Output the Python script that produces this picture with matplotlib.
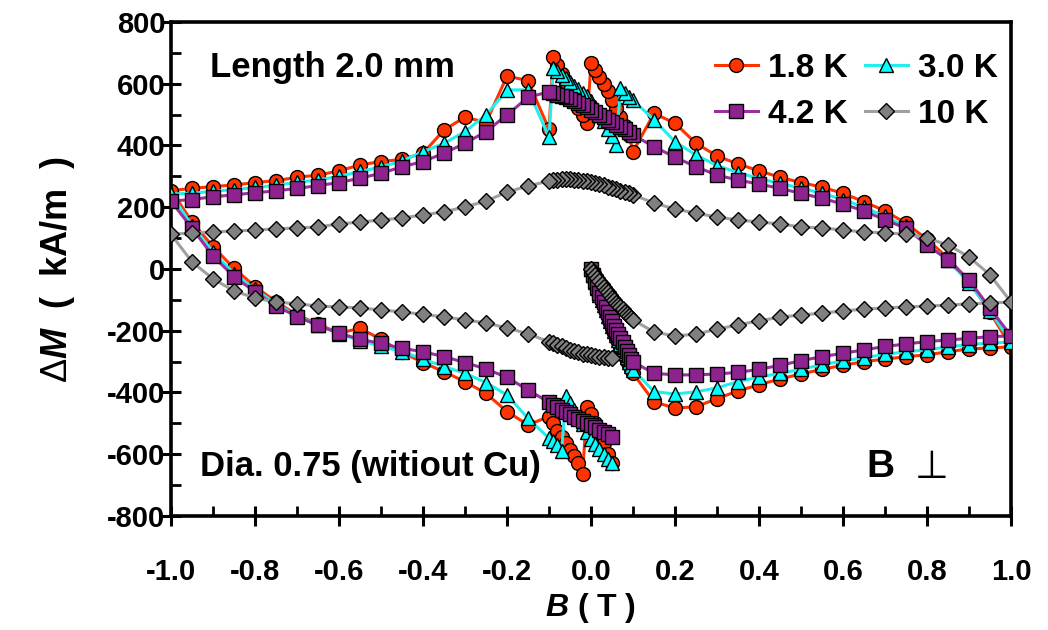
import matplotlib
matplotlib.use("Agg")
import matplotlib.pyplot as plt
from matplotlib.ticker import MultipleLocator, FormatStrFormatter
from matplotlib.lines import Line2D

# ---------------- data ----------------
# field steps of the three sweeps (T)
B_virgin = [0.0, 0.005, 0.01, 0.015, 0.02, 0.025, 0.03, 0.035, 0.04, 0.045, 0.05,
            0.055, 0.06, 0.065, 0.07, 0.075, 0.08, 0.085, 0.09, 0.095, 0.1,
            0.15, 0.2, 0.25, 0.3, 0.35, 0.4, 0.45, 0.5, 0.55, 0.6, 0.65, 0.7,
            0.75, 0.8, 0.85, 0.9, 0.95, 1.0]
B_down = [0.95, 0.9, 0.85, 0.8, 0.75, 0.7, 0.65, 0.6, 0.55, 0.5, 0.45, 0.4, 0.35,
          0.3, 0.25, 0.2, 0.15,
          0.1, 0.09, 0.08, 0.07, 0.06, 0.05, 0.04, 0.03, 0.02, 0.01, 0.0,
          -0.01, -0.02, -0.03, -0.04, -0.05, -0.06, -0.07, -0.08, -0.09, -0.1,
          -0.15, -0.2, -0.25, -0.3, -0.35, -0.4, -0.45, -0.5, -0.55, -0.6, -0.65,
          -0.7, -0.75, -0.8, -0.85, -0.9, -0.95, -1.0]
B_up = [-0.95, -0.9, -0.85, -0.8, -0.75, -0.7, -0.65, -0.6, -0.55, -0.5, -0.45,
        -0.4, -0.35, -0.3, -0.25, -0.2, -0.15,
        -0.1, -0.09, -0.08, -0.07, -0.06, -0.05, -0.04, -0.03, -0.02, -0.01,
        0.0, 0.01, 0.02, 0.03, 0.04, 0.05]

# 1.8 K
M18_virgin = [0, -21, -43, -65, -86, -103, -121, -139, -157, -174, -191, -207, -222,
              -238, -253, -267, -282, -297, -311, -325, -338,
              -430, -451, -446, -420, -395, -375, -356, -340, -325, -312, -300,
              -292, -284, -278, -268, -259, -256, -252]
M18_down = [-140, -40, 35, 96, 148, 188, 218, 245, 265, 280, 297, 318, 340, 366, 407,
            472, 504,
            380, 434, 463, 493, 520, 547, 575, 600, 623, 645, 666,
            472, 498, 522, 550, 578, 605, 632, 660, 686, 452,
            610, 625, 474, 492, 450, 375, 355, 348, 337, 318, 304, 297, 286, 280,
            272, 267, 261, 254]
M18_up = [153, 72, 2, -57, -106, -149, -178, -208, -192, -228, -270, -303, -333,
          -365, -403, -462, -505,
          -478, -500, -525, -545, -565, -585, -605, -630, -664,
          -446, -470, -500, -530, -565, -600, -630]

# 3.0 K
M30_virgin = [0, -20, -41, -62, -83, -99, -117, -134, -151, -168, -184, -200, -215,
              -229, -244, -258, -272, -286, -300, -313, -326,
              -397, -405, -398, -385, -365, -350, -338, -325, -310, -298, -287,
              -277, -268, -262, -252, -245, -240, -237]
M30_down = [-135, -45, 28, 82, 138, 170, 200, 225, 245, 262, 277, 293, 312, 335, 369,
            412, 483,
            547, 558, 570, 585, 402, 430, 455, 478, 500, 525, 545,
            560, 571, 583, 594, 606, 617, 628, 640, 650, 427,
            580, 580, 499, 445, 407, 380, 350, 330, 316, 300, 288, 281, 271, 264,
            257, 252, 245, 243]
M30_up = [140, 55, -15, -66, -113, -152, -181, -210, -232, -250, -268, -292, -316,
          -338, -368, -408, -484,
          -548, -558, -570, -590, -413, -435, -458, -480, -503, -527,
          -550, -568, -584, -600, -615, -630]

# 4.2 K
M42_virgin = [0, -19, -38, -58, -77, -92, -108, -124, -140, -155, -170, -184, -198,
              -212, -225, -238, -252, -265, -278, -290, -301,
              -338, -343, -343, -340, -335, -325, -312, -297, -284, -273, -262,
              -251, -243, -235, -230, -225, -219, -217]
M42_down = [-127, -36, 29, 78, 132, 159, 188, 210, 229, 245, 261, 275, 288, 304, 331,
            362, 396,
            434, 444, 452, 459, 467, 475, 484, 492, 500, 507, 516,
            524, 531, 539, 545, 550, 556, 561, 565, 569, 574,
            556, 499, 445, 407, 375, 348, 331, 310, 294, 280, 270, 261, 253, 247,
            240, 234, 225, 220]
M42_up = [132, 42, -25, -74, -120, -154, -183, -208, -228, -241, -257, -268, -284,
          -303, -324, -351, -392,
          -432, -440, -448, -456, -463, -470, -478, -485, -492, -499,
          -506, -513, -520, -527, -535, -543]

# 10 K
M10_virgin = [0, -10, -20, -30, -40, -49, -58, -67, -76, -85, -93, -101, -109, -117,
              -124, -131, -138, -145, -152, -159, -165,
              -204, -217, -211, -195, -181, -168, -156, -149, -143, -136, -130,
              -126, -123, -120, -117, -113, -110, -107]
M10_down = [-19, 39, 78, 100, 113, 117, 120, 126, 133, 136, 146, 152, 159, 168, 181,
            194, 214,
            240, 245, 250, 254, 259, 263, 267, 271, 275, 278, 281,
            284, 286, 288, 289, 290, 290, 290, 289, 287, 285,
            269, 249, 220, 201, 185, 175, 165, 159, 152, 146, 136, 133, 130, 126,
            123, 120, 117, 112]
M10_up = [23, -32, -71, -94, -107, -113, -120, -123, -126, -133, -139, -147, -155,
          -165, -175, -191, -210,
          -236, -241, -246, -251, -256, -261, -265, -270, -274, -277,
          -280, -282, -284, -286, -287, -288]

labels = ["1.8 K", "3.0 K", "4.2 K", "10 K"]

# ---------------- style ----------------
plt.rcParams["font.family"] = ["Liberation Sans", "DejaVu Sans"]
plt.rcParams["axes.unicode_minus"] = False
plt.rcParams["mathtext.fontset"] = "custom"
plt.rcParams["mathtext.rm"] = "Liberation Sans"
plt.rcParams["mathtext.it"] = "Liberation Sans:italic:bold"
plt.rcParams["mathtext.bf"] = "Liberation Sans:bold"

fig = plt.figure(figsize=(10.48, 6.30), dpi=100)
ax = fig.add_axes([0.1632, 0.1810, 0.8015, 0.7841])

series = [
    (M18_virgin, M18_down, M18_up, "#FF3300", "#FF3300", "o", 10.0),
    (M30_virgin, M30_down, M30_up, "#00FFFF", "#22EEEE", "^", 10.0),
    (M42_virgin, M42_down, M42_up, "#8E2390", "#9A30A0", "s", 9.5),
    (M10_virgin, M10_down, M10_up, "#808080", "#A0A0A0", "D", 8.0),
]

handles = []
for i, (mv, md, mu, fc, lc, mk, ms) in enumerate(series):
    xs = B_virgin + B_down + B_up
    ys = mv + md + mu
    ax.plot(xs, ys, color=lc, lw=2.2, marker=mk, ms=ms, mfc=fc, mec="black",
            mew=1.0, zorder=2 + i)
    handles.append(Line2D([], [], color=lc, lw=2.2, marker=mk, ms=ms, mfc=fc,
                          mec="black", mew=1.0))

ax.set_xlim(-1.0, 1.0)
ax.set_ylim(-800, 800)
ax.xaxis.set_major_locator(MultipleLocator(0.2))
ax.xaxis.set_minor_locator(MultipleLocator(0.1))
ax.yaxis.set_major_locator(MultipleLocator(200))
ax.yaxis.set_minor_locator(MultipleLocator(100))
ax.xaxis.set_major_formatter(FormatStrFormatter("%.1f"))
ax.yaxis.set_major_formatter(FormatStrFormatter("%d"))

for s in ax.spines.values():
    s.set_linewidth(2.6)
ax.tick_params(which="major", direction="inout", length=14, width=2.2,
               top=False, right=False)
ax.tick_params(which="minor", direction="in", length=7, width=2.0,
               top=False, right=False)
ax.tick_params(axis="x", which="major", pad=23, labelsize=21)
ax.tick_params(axis="y", which="major", pad=-3, labelsize=21)
for lab in ax.get_xticklabels() + ax.get_yticklabels():
    lab.set_fontweight("bold")

ax.set_xlabel(r"$B$ ( T )", fontsize=23, fontweight="bold", labelpad=4)
ax.set_ylabel(r"$\Delta M$  (  kA/m  )", fontsize=26, fontweight="bold",
              labelpad=22)

ax.text(-0.907, 651, "Length 2.0 mm", fontsize=25, fontweight="bold",
        ha="left", va="center", zorder=10)
ax.text(-0.93, -641, "Dia. 0.75 (witiout Cu)", fontsize=25, fontweight="bold",
        ha="left", va="center", zorder=10)
ax.text(0.655, -640, "B", fontsize=28, fontweight="bold", ha="left", va="center",
        zorder=10)
ax.text(0.81, -640, "\u22A5", fontsize=28, ha="center", va="center",
        family=["DejaVu Sans"], zorder=10)

order = [0, 2, 1, 3]
leg = ax.legend([handles[k] for k in order], [labels[k] for k in order], ncol=2,
                loc="upper right", bbox_to_anchor=(1.012, 0.985), frameon=False,
                prop={"size": 24, "weight": "bold"}, handlelength=1.3,
                handletextpad=0.3, columnspacing=0.5, labelspacing=0.45,
                borderaxespad=0.3)
leg.set_zorder(20)

fig.savefig("out.png", dpi=100)
